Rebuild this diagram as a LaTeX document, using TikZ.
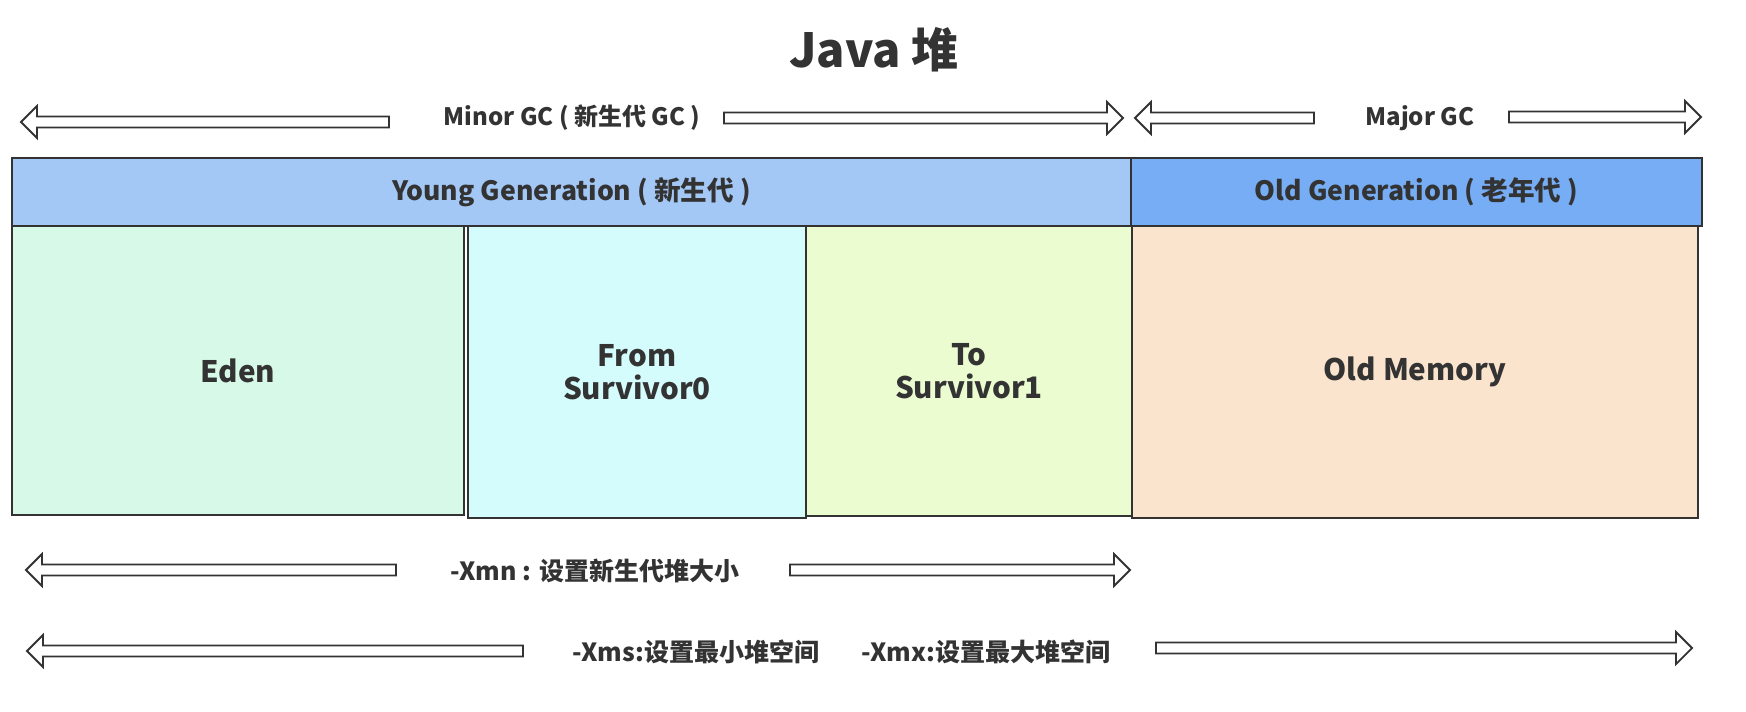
\documentclass[tikz,border=0pt]{standalone}
\usepackage{fontspec}
\setmainfont{Noto Sans CJK SC}
\usepackage{xcolor}
\usetikzlibrary{positioning, calc}
\definecolor{inkgray}{HTML}{333333}
\definecolor{younghead}{HTML}{A4C8F6}
\definecolor{oldhead}{HTML}{76ADF5}
\definecolor{edenfill}{HTML}{D6FAE7}
\definecolor{fromfill}{HTML}{D5FCFC}
\definecolor{tofill}{HTML}{EAFCD0}
\definecolor{oldfill}{HTML}{FAE4CE}
\newcommand{\fatarrow}[2]{%
  \draw[fat] let \p1=(#1), \p2=(#2), \p3=($(#2)!8pt!(#1)$) in
    (\x1,\y1+2.75pt) -- (\x3,\y1+2.75pt) -- (\x3,\y1+8pt) -- (\x2,\y1)
    -- (\x3,\y1-8pt) -- (\x3,\y1-2.75pt) -- (\x1,\y1-2.75pt) -- cycle;
}

\begin{document}
\begin{tikzpicture}[x=0.5pt, y=-0.5pt, text=inkgray]
    \tikzset{
        gen/.style={rectangle, draw=inkgray, line width=1pt, anchor=north west,
                    inner sep=0pt, minimum height=34pt,
                    font=\fontsize{13.3}{16}\selectfont\bfseries},
        area/.style={rectangle, draw=inkgray, line width=1pt, anchor=north west,
                     inner sep=0pt, align=center,
                     font=\fontsize{14.8}{16.5}\selectfont\bfseries},
        fat/.style={draw=inkgray, line width=0.9pt, fill=white},
        lbl/.style={inner sep=0pt, font=\fontsize{12}{14}\selectfont\bfseries},
        opt/.style={inner sep=0pt, font=\fontsize{12.5}{15}\selectfont\bfseries}
    }
    \useasboundingbox (0,0) rectangle (1746,712);
    \node[font=\fontsize{23.5}{28}\selectfont\bfseries] (title) at (874,50) {Java 堆};
    % generations
    \node[gen, fill=younghead, minimum width=559.5pt] (young) at (11,157)
        {Young Generation ( 新生代 )};
    \node[gen, fill=oldhead, minimum width=285.5pt] (old) at (1130,157)
        {Old Generation ( 老年代 )};
    % spaces
    \node[area, fill=edenfill, minimum width=226pt, minimum height=144.5pt]
        (eden) at (11,225) {Eden};
    \node[area, fill=fromfill, minimum width=169pt, minimum height=146pt]
        (from) at (467,225) {From\\Survivor0};
    \node[area, fill=tofill, minimum width=163pt, minimum height=145pt]
        (to) at (805,225) {To\\Survivor1};
    \node[area, fill=oldfill, minimum width=283pt, minimum height=146pt]
        (oldmem) at (1131,225) {Old Memory};
    % gc labels
    \node[lbl] (minor) at (572,118) {Minor GC ( 新生代 GC )};
    \node[lbl] (major) at (1420,118) {Major GC};
    \node[opt] (xmn) at (595,571) {-Xmn : 设置新生代堆大小};
    \node[opt] (xms) at (696,652) {-Xms:设置最小堆空间};
    \node[opt] (xmx) at (986,652) {-Xmx:设置最大堆空间};
    % arrow ends
    \coordinate (minorA) at (389,122);  \coordinate (minorL) at (21,122);
    \coordinate (minorB) at (724,118);  \coordinate (minorR) at (1123,118);
    \coordinate (majorA) at (1314,118); \coordinate (majorL) at (1135,118);
    \coordinate (majorB) at (1509,117); \coordinate (majorR) at (1701,117);
    \coordinate (xmnA) at (396,570);    \coordinate (xmnL) at (26,570);
    \coordinate (xmnB) at (790,570);    \coordinate (xmnR) at (1130,570);
    \coordinate (xmsA) at (523,651);    \coordinate (xmsL) at (27,651);
    \coordinate (xmxB) at (1156,648);   \coordinate (xmxR) at (1692,648);
    \fatarrow{minorA}{minorL}
    \fatarrow{minorB}{minorR}
    \fatarrow{majorA}{majorL}
    \fatarrow{majorB}{majorR}
    \fatarrow{xmnA}{xmnL}
    \fatarrow{xmnB}{xmnR}
    \fatarrow{xmsA}{xmsL}
    \fatarrow{xmxB}{xmxR}
\end{tikzpicture}
\end{document}
